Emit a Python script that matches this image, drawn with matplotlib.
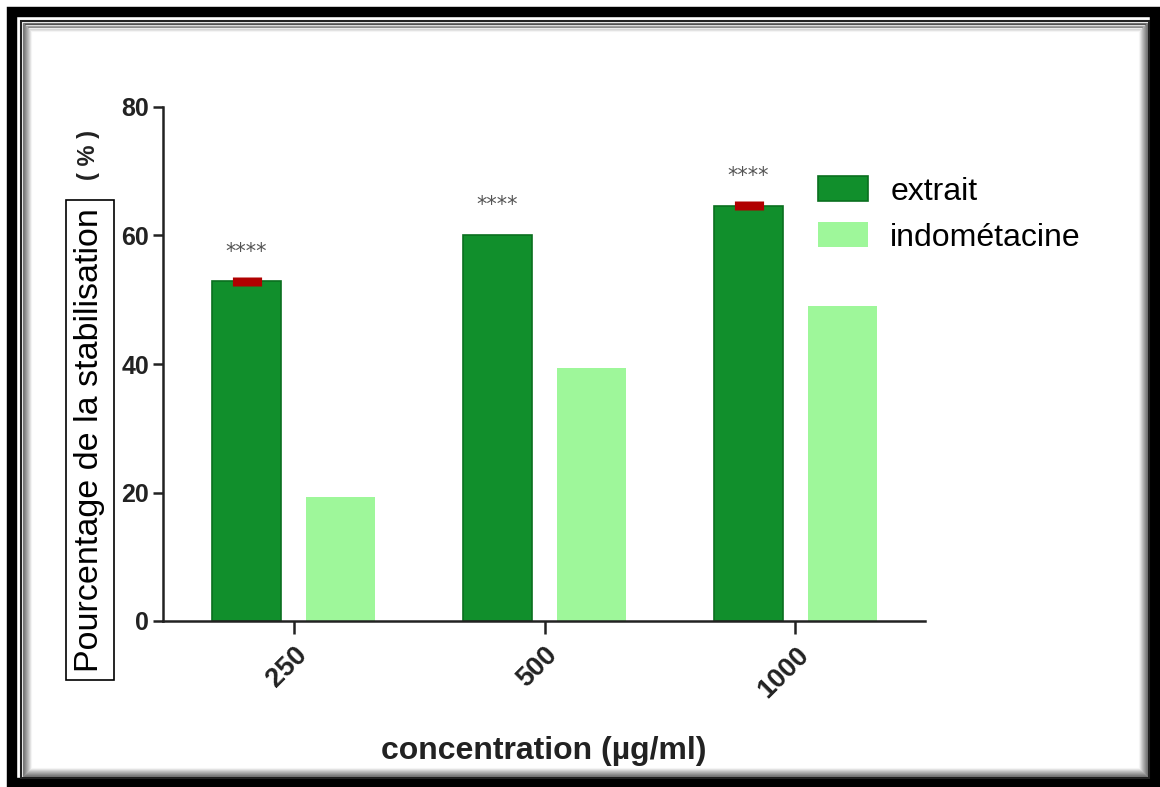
import numpy as np
import matplotlib
matplotlib.use("Agg")
import matplotlib.pyplot as plt
from matplotlib.patches import Rectangle

# stabilisation (%) per concentration
concentrations = ["250", "500", "1000"]
extrait = [52.9, 60.1, 64.6]
extrait_err = [0.7, 0.0, 0.7]
indometacine = [19.3, 39.4, 49.0]
stars = ["****", "****", "****"]

W, H = 1160, 787
fig = plt.figure(figsize=(W / 100, H / 100), dpi=100)
fig.patch.set_facecolor("white")

def px(x, y):
    return x / W, 1 - y / H

# double frame with inner shadow
def frame(x0, y0, x1, y1, lw, color, alpha=1.0):
    a, b = px(x0, y1)
    c, d = px(x1, y0)
    fig.add_artist(Rectangle((a, b), c - a, d - b, transform=fig.transFigure,
                             fill=False, lw=lw, edgecolor=color, alpha=alpha))

frame(12, 12, 1155, 783, 7.5, "black")
frame(20.5, 20.5, 1148.5, 777.5, 1.5, "#222222")
for i, al in enumerate(np.linspace(0.5, 0.03, 9)):
    frame(22.5 + i, 22.5 + i, 1146.5 - i, 775.5 - i, 0.9, "black", al)

ax = fig.add_axes([163 / W, 1 - 621 / H, (925 - 163) / W, (621 - 107) / H])
x = np.arange(len(concentrations))
w = 0.275
off = 0.187

dark = "#118f2c"
light = "#9ef79a"
ax.bar(x - off, extrait, w, color=dark, edgecolor="#0a6f1f", lw=1.2, label="extrait", zorder=2)
ax.bar(x + off, indometacine, w, color=light, edgecolor=light, lw=0, label="indométacine", zorder=2)
ax.errorbar(x - off, extrait, yerr=extrait_err, fmt="none", ecolor="#b00000",
            elinewidth=21, capsize=0, zorder=3)

for xi, v, s in zip(x, extrait, stars):
    ax.text(xi - off, v + 4.6, s, ha="center", va="center", fontsize=15,
            color="#555555", family="DejaVu Sans")

ax.set_xlim(-0.52, 2.516)
ax.set_ylim(0, 80)
ax.set_yticks([0, 20, 40, 60, 80])
ax.set_xticks(x)
ax.set_xticklabels(concentrations, rotation=45, ha="right", rotation_mode="anchor")

for sp in ["top", "right"]:
    ax.spines[sp].set_visible(False)
for sp in ["left", "bottom"]:
    ax.spines[sp].set_linewidth(1.8)
    ax.spines[sp].set_color("#222222")
ax.tick_params(axis="y", length=7, width=1.8, pad=3, color="#222222")
ax.tick_params(axis="x", length=9, width=1.8, pad=6, color="#222222")
fp_y = matplotlib.font_manager.FontProperties(family="Liberation Sans", weight="bold", size=18)
fp_x = matplotlib.font_manager.FontProperties(family="Liberation Sans", weight="bold", size=19.5)
for lab in ax.get_yticklabels():
    lab.set_fontproperties(fp_y)
    lab.set_color("#222222")
for lab in ax.get_xticklabels():
    lab.set_fontproperties(fp_x)
    lab.set_color("#222222")

ax.set_xlabel("concentration (µg/ml)", family="Liberation Sans", weight="bold",
              fontsize=23, color="#222222", labelpad=24)

# y label in its own box, units set apart
fig.text(90 / W, 1 - 440 / H, "Pourcentage de la stabilisation", rotation=90,
         ha="center", va="center", family="Liberation Sans", fontsize=24.5,
         bbox=dict(boxstyle="square,pad=0.25", fc="white", ec="black", lw=1.2))
fig.text(88 / W, 1 - 155 / H, "( % )", rotation=90, ha="center", va="center",
         family="Liberation Sans", weight="bold", fontsize=17, color="#222222")

ax.legend(loc="upper left", bbox_to_anchor=px(818, 176), bbox_transform=fig.transFigure,
          frameon=False, prop=dict(family="Liberation Sans", size=23),
          handlelength=1.56, handleheight=0.82, handletextpad=0.7, labelspacing=0.5,
          borderpad=0, borderaxespad=0)

fig.savefig("out.png", dpi=100)
